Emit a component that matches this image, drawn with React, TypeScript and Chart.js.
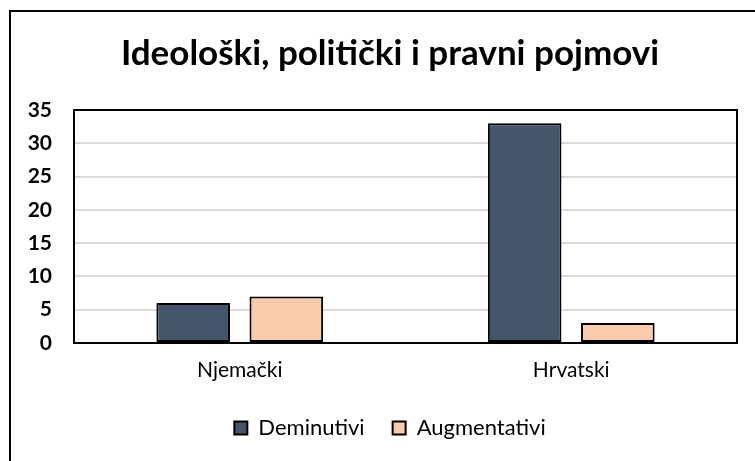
import React, { useEffect, useRef } from "react";
import { Chart, registerables } from "chart.js";

Chart.register(...registerables);

const titleText = "Ideološki, politički i pravni pojmovi";
const categories = ["Njemački", "Hrvatski"];
const seriesNames = ["Deminutivi", "Augmentativi"];
const deminutivi = [6, 33];
const augmentativi = [7, 3];
const yTicks = [0, 5, 10, 15, 20, 25, 30, 35];

const FONT = "Lato, 'Open Sans', sans-serif";

const plotBorder = {
  id: "plotBorder",
  afterDatasetsDraw(chart: any) {
    const { ctx, chartArea } = chart;
    ctx.save();
    ctx.strokeStyle = "#000";
    ctx.lineWidth = 2;
    ctx.strokeRect(chartArea.left, chartArea.top, chartArea.right - chartArea.left, chartArea.bottom - chartArea.top);
    ctx.restore();
  },
};

export default function App() {
  const ref = useRef<HTMLCanvasElement | null>(null);
  useEffect(() => {
    document.body.style.margin = "0";
    const chart = new Chart(ref.current as HTMLCanvasElement, {
      type: "bar",
      data: {
        labels: categories,
        datasets: [
          {
            label: seriesNames[0],
            data: deminutivi,
            backgroundColor: "#44546A",
            borderColor: "#000",
            borderWidth: 2,
            borderSkipped: false,
            categoryPercentage: 0.562,
            barPercentage: 0.79,
          },
          {
            label: seriesNames[1],
            data: augmentativi,
            backgroundColor: "#F8CBAD",
            borderColor: "#000",
            borderWidth: 2,
            borderSkipped: false,
            categoryPercentage: 0.562,
            barPercentage: 0.79,
          },
        ],
      },
      options: {
        animation: false,
        responsive: false,
        maintainAspectRatio: false,
        layout: { padding: { left: 0, right: 0, top: 0, bottom: 12 } },
        plugins: {
          title: {
            display: true,
            text: titleText,
            color: "#000",
            font: { family: FONT, size: 35, weight: "bold" },
            padding: { top: 33, bottom: 35 },
          },
          legend: {
            position: "bottom",
            labels: {
              color: "#000",
              font: { family: FONT, size: 22 },
              boxWidth: 13,
              boxHeight: 13,
              padding: 28,
            },
          },
          tooltip: { enabled: false },
        },
        scales: {
          x: {
            grid: { display: false, drawTicks: false },
            border: { display: false },
            ticks: { color: "#000", font: { family: FONT, size: 21 }, padding: 15 },
            afterFit(scale: any) {
              scale.height = 46;
            },
          },
          y: {
            min: 0,
            max: 35,
            afterBuildTicks(scale: any) {
              scale.ticks = yTicks.map((v) => ({ value: v }));
            },
            grid: { color: "#d9d9d9", lineWidth: 2, drawTicks: false },
            border: { display: false },
            ticks: { color: "#000", font: { family: FONT, size: 21, weight: "bold" }, padding: 22 },
            afterFit(scale: any) {
              scale.width = 74;
            },
          },
          spacer: {
            type: "linear",
            axis: "y",
            position: "right",
            display: true,
            grid: { display: false, drawTicks: false },
            border: { display: false },
            ticks: { display: false },
            afterFit(scale: any) {
              scale.width = 43;
            },
          },
        },
      },
      plugins: [plotBorder],
    });
    return () => chart.destroy();
  }, []);
  return (
    <div style={{ position: "relative", width: 755, height: 461, overflow: "hidden", background: "#fff" }}>
      <canvas ref={ref} width={780} height={461} style={{ position: "absolute", left: 0, top: 0 }} />
      <div
        style={{
          position: "absolute",
          left: 9,
          top: 10,
          width: 800,
          height: 500,
          border: "2px solid #000",
          pointerEvents: "none",
        }}
      />
    </div>
  );
}
